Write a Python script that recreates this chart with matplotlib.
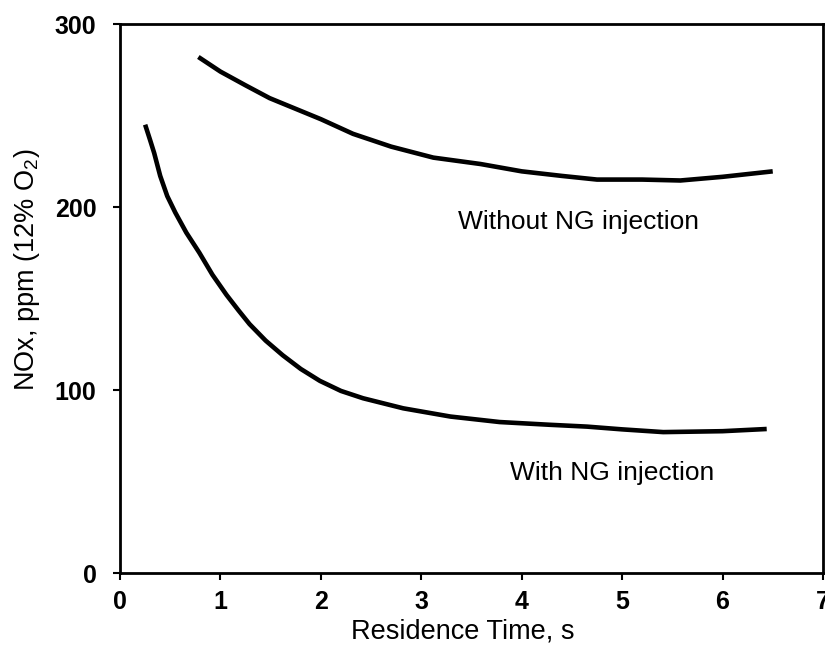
import matplotlib
matplotlib.use("Agg")
import matplotlib.pyplot as plt
import numpy as np

plt.rcParams['font.family'] = ['Liberation Sans', 'DejaVu Sans']
plt.rcParams['mathtext.fontset'] = 'custom'
plt.rcParams['mathtext.rm'] = 'Liberation Sans'
plt.rcParams['mathtext.default'] = 'regular'

# Without NG injection
t_without = [0.78, 1.0, 1.25, 1.49, 2.0, 2.32, 2.7, 3.12, 3.59, 4.0, 4.4, 4.75, 5.2, 5.58, 6.0, 6.5]
nox_without = [282, 274, 266.5, 259.5, 248, 240, 233, 227, 223.5, 219.5, 217, 215, 215, 214.5, 216.5, 219.5]

# With NG injection
t_with = [0.25, 0.30, 0.34, 0.40, 0.47, 0.55, 0.66, 0.79, 0.92, 1.06, 1.18, 1.29, 1.45, 1.62, 1.80, 1.99, 2.2, 2.42, 2.82, 3.29, 3.78, 4.28, 4.65, 5.0, 5.41, 6.0, 6.44]
nox_with = [245, 236.5, 229.5, 217, 206, 197, 186, 175, 163, 152, 143.5, 136, 127, 119, 111.5, 105, 99.5, 95.5, 90, 85.5, 82.5, 81, 80, 78.5, 77, 77.5, 78.7]

xticks = [0, 1, 2, 3, 4, 5, 6, 7]
yticks = [0, 100, 200, 300]

fig = plt.figure(figsize=(8.25, 6.53), dpi=100)
ax = fig.add_axes([0.1455, 0.1225, 0.852, 0.8407])

ax.plot(t_without, nox_without, color='black', lw=3.3, solid_capstyle='butt')
ax.plot(t_with, nox_with, color='black', lw=3.3, solid_capstyle='butt')

ax.set_xlim(0, 7)
ax.set_ylim(0, 300)
ax.set_xticks(xticks)
ax.set_yticks(yticks)
ax.tick_params(direction='out', length=5, width=1.5, labelsize=18)
ax.tick_params(axis='x', pad=7)
ax.tick_params(axis='y', pad=12)
for lab in ax.get_xticklabels() + ax.get_yticklabels():
    lab.set_fontweight('bold')
for s in ax.spines.values():
    s.set_linewidth(2)

ax.set_xlabel('Residence Time, s', fontsize=19.5)
ax.set_ylabel('NOx, ppm (12% O$_2$)', fontsize=19.5)
ax.xaxis.set_label_coords(0.487, -0.082)
ax.yaxis.set_label_coords(-0.111, 0.552)

ax.text(3.37, 192, 'Without NG injection', fontsize=19, va='center', ha='left')
ax.text(3.88, 54.5, 'With NG injection', fontsize=19, va='center', ha='left')

fig.savefig('out.png', dpi=100, facecolor='white')
